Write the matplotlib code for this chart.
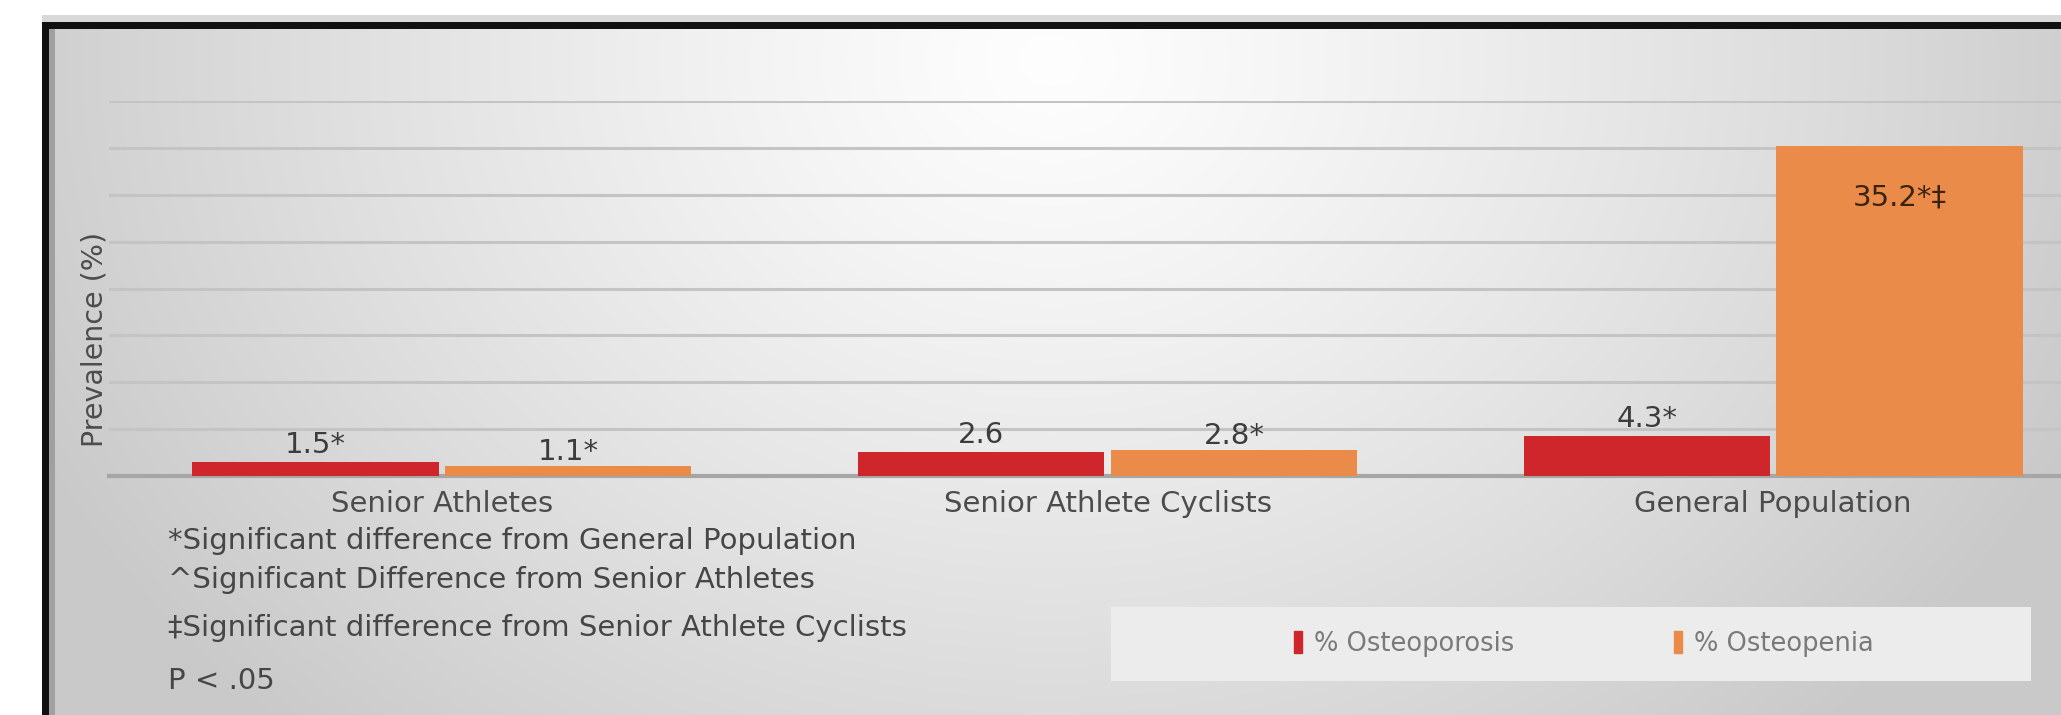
import matplotlib.pyplot as plt
import numpy as np
from matplotlib.patches import Rectangle, Patch

categories = ["Senior Athletes", "Senior Athlete Cyclists", "General Population"]
osteoporosis = [1.5, 2.6, 4.3]
osteopenia = [1.1, 2.8, 35.2]
osteoporosis_labels = ["1.5*", "2.6", "4.3*"]
osteopenia_labels = ["1.1*", "2.8*", "35.2*\u2021"]
series_names = ["% Osteoporosis", "% Osteopenia"]
footnotes = ["*Significant difference from General Population",
             "^Significant Difference from Senior Athletes",
             "\u2021Significant difference from Senior Athlete Cyclists",
             "P < .05"]

red = "#CF262C"
orange = "#EB8B49"
W, H = 2061, 715
fs = 21

fig = plt.figure(figsize=(W / 100, H / 100), dpi=100)
fig.patch.set_facecolor("white")

# background gradient inside the frame
bg = fig.add_axes([0, 0, 1, 1], zorder=-2)
yy, xx = np.mgrid[0:H, 0:W]
d = np.sqrt(((xx - 1050) / 1100.0) ** 2 + ((yy - 60) / 900.0) ** 2)
b = np.clip(0.995 - 0.2 * d ** 1.2, 0.79, 1.0)
img = np.dstack([b, b, b])
img[:22, :] = 1.0
img[:, :42] = 1.0
img[15:22, 42:] = 0.85
img[22:29, 42:] = 0.07
img[22:, 42:49] = 0.07
img[29:, 49:55] = 0.63
bg.imshow(img, aspect="auto", extent=[0, W, H, 0], interpolation="bilinear")
bg.set_xlim(0, W)
bg.set_ylim(H, 0)
bg.axis("off")

ax = fig.add_axes([109 / W, 239 / H, (2106 - 109) / W, 375 / H])
ax.set_facecolor("none")
x = np.arange(len(categories))
w = 0.37
b1 = ax.bar(x - 0.19, osteoporosis, w, color=red, zorder=3)
b2 = ax.bar(x + 0.19, osteopenia, w, color=orange, zorder=3)

ax.set_xlim(-0.5, 2.5)
ax.set_ylim(0, 40)
ax.set_yticks(np.arange(5, 41, 5))
ax.yaxis.grid(True, color="#c4c4c4", lw=2.2)
ax.set_axisbelow(True)
ax.tick_params(length=0, labelleft=False)
for s in ["top", "right", "left"]:
    ax.spines[s].set_visible(False)
ax.spines["bottom"].set_color("#a6a6a6")
ax.spines["bottom"].set_linewidth(3)
ax.set_xticks(x)
ax.set_xticklabels(categories, fontsize=fs, color="#4c4c4c")
ax.tick_params(axis="x", pad=10)
fig.text(95 / W, 1 - 339 / H, "Prevalence (%)", rotation=90, fontsize=20.5,
         color="#4c4c4c", ha="center", va="center")

for rect, lab in zip(b1, osteoporosis_labels):
    ax.annotate(lab, (rect.get_x() + rect.get_width() / 2, rect.get_height()),
                xytext=(0, 2), textcoords="offset points", ha="center", va="bottom",
                fontsize=fs, color="#3c3c3c")
for rect, lab, v in zip(b2, osteopenia_labels, osteopenia):
    if v > 20:
        ax.annotate(lab, (rect.get_x() + rect.get_width() / 2, v),
                    xytext=(0, -27), textcoords="offset points", ha="center", va="top",
                    fontsize=fs, color="#3a2410")
    else:
        ax.annotate(lab, (rect.get_x() + rect.get_width() / 2, v),
                    xytext=(0, 0), textcoords="offset points", ha="center", va="bottom",
                    fontsize=fs, color="#3c3c3c")

ys = [541, 580, 628, 681]
for t, yv in zip(footnotes, ys):
    fig.text(168 / W, 1 - yv / H, t, fontsize=fs, color="#464646", va="center", ha="left")

# legend box
fig.patches.append(Rectangle((1111 / W, 1 - 681 / H), (2031 - 1111) / W, 74 / H,
                             transform=fig.transFigure, facecolor="#ececec",
                             edgecolor="none", zorder=-1))
handles = [Patch(color=red), Patch(color=orange)]
fig.legend(handles, series_names, loc="center", bbox_to_anchor=(1584 / W, 1 - 644 / H),
           ncol=2, frameon=False, fontsize=18.5, labelcolor="#7a7a7a",
           handlelength=0.3, handleheight=0.9, handletextpad=0.5, columnspacing=6.2)

fig.savefig("out.png", dpi=100)
